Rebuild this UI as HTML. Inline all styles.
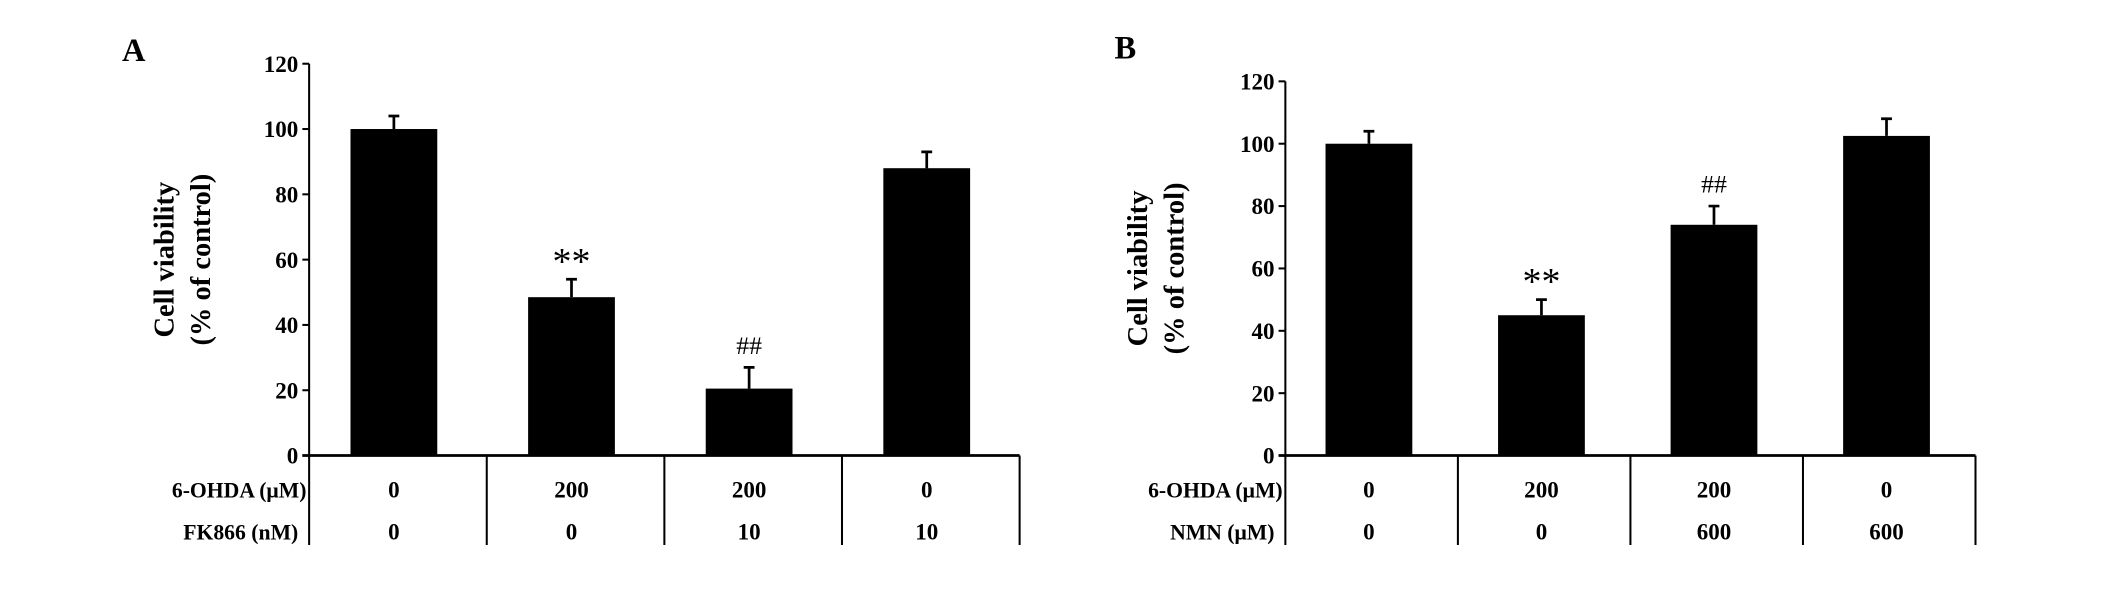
<!DOCTYPE html>
<html><head><meta charset="utf-8"><style>
html,body{margin:0;padding:0;background:#fff;}
svg{display:block;font-family:"Liberation Serif",serif;font-weight:bold;}
</style></head><body>
<svg id="chart" width="2126" height="596" viewBox="0 0 1568 439.6" preserveAspectRatio="none" xmlns="http://www.w3.org/2000/svg"></svg>
<script>
const yTicks = [0,20,40,60,80,100,120];
const aValues = [100,48.5,20.5,88];
const aErrors = [4,5.5,6.5,5];
const aRow1 = ["0","200","200","0"];
const aRow2 = ["0","0","10","10"];
const aMarks = ["","**","##",""];
const bValues = [100,45,74,102.5];
const bErrors = [4,5,6,5.5];
const bRow1 = ["0","200","200","0"];
const bRow2 = ["0","0","600","600"];
const bMarks = ["","**","##",""];

const svg=document.getElementById('chart');
const NS="http://www.w3.org/2000/svg";
function mk(tag,attrs,parent){const e=document.createElementNS(NS,tag);for(const k in attrs)e.setAttribute(k,attrs[k]);(parent||svg).appendChild(e);return e;}

function panel(cfg){
  const g=mk('g',{});
  
  
  const y=v=>cfg.y0-(v/120)*(cfg.y0-cfg.y120);
  const catW=(cfg.xEnd-cfg.x0)/4;
  const xc=i=>cfg.x0+catW*(i+0.5)+cfg.shift;
  const L=mk('text',{x:cfg.letterX,y:cfg.letterY,'font-size':24},g);L.textContent=cfg.letter;
  
  
  const ya=mk('line',{x1:cfg.x0,y1:cfg.y120,x2:cfg.x0,y2:cfg.y0,stroke:'#000','stroke-width':1.5},g);
  
  
  yTicks.forEach(t=>{
    mk('line',{x1:cfg.x0-5,y1:y(t),x2:cfg.x0,y2:y(t),stroke:'#000','stroke-width':1.5},g);
    const tx=mk('text',{x:cfg.x0-8,y:y(t)+6,'font-size':17,'text-anchor':'end'},g);tx.textContent=t;
    
    
  });
  const yt=mk('text',{transform:`translate(${cfg.titleX},${(cfg.y0+cfg.y120)/2}) rotate(-90)`,'font-size':21,'text-anchor':'middle'},g);
  
  
  const t1=mk('tspan',{x:0,dy:0},yt);t1.textContent='Cell viability';
  const t2=mk('tspan',{x:0,dy:27},yt);t2.textContent='(% of control)';
  cfg.values.forEach((v,i)=>{
    const bw=64;
    const r=mk('rect',{x:xc(i)-bw/2,y:y(v),width:bw,height:cfg.y0-y(v),fill:'#000'},g);
    
    
    const e=cfg.errors[i];
    const el=mk('path',{d:`M${xc(i)} ${y(v)} V${y(v+e)} M${xc(i)-4} ${y(v+e)} H${xc(i)+4}`,stroke:'#000','stroke-width':2,fill:'none'},g);
    
    
    if(cfg.marks[i]){
      const isStar=cfg.marks[i]==='**';
      const m=mk('text',{x:xc(i),y:y(v+e)-(isStar?4:10),'font-size':isStar?28:19,'font-weight':'normal','text-anchor':'middle'},g);
      m.textContent=cfg.marks[i];
      
      
    }
  });
  const xa=mk('line',{x1:cfg.x0-5,y1:cfg.y0,x2:cfg.xEnd,y2:cfg.y0,stroke:'#000','stroke-width':2},g);
  
  
  for(let i=0;i<=4;i++){
    mk('line',{x1:cfg.x0+catW*i,y1:cfg.y0,x2:cfg.x0+catW*i,y2:cfg.y0+66,stroke:'#000','stroke-width':1.5},g);
  }
  const r1=mk('text',{x:cfg.x0-2,y:cfg.y0+31,'font-size':16,'text-anchor':'end'},g);r1.textContent=cfg.row1Label;
  
  
  const r2=mk('text',{x:cfg.x0-8,y:cfg.y0+62,'font-size':16,'text-anchor':'end'},g);r2.textContent=cfg.row2Label;
  
  
  for(let i=0;i<4;i++){
    const a=mk('text',{x:xc(i),y:cfg.y0+31,'font-size':17,'text-anchor':'middle'},g);a.textContent=cfg.row1[i];
    
    
    const b=mk('text',{x:xc(i),y:cfg.y0+62,'font-size':17,'text-anchor':'middle'},g);b.textContent=cfg.row2[i];
    
    
  }
}
panel({name:'panel-a',letter:'A',letterX:90,letterY:45,x0:228,xEnd:752,y0:336,y120:47,titleX:128,shift:-3,
  values:aValues,errors:aErrors,marks:aMarks,row1:aRow1,row2:aRow2,row1Label:'6-OHDA (\u03bcM)',row2Label:'FK866 (nM)'});
panel({name:'panel-b',letter:'B',letterX:822,letterY:43,x0:948,xEnd:1457,y0:336,y120:60,titleX:846,shift:-2,
  values:bValues,errors:bErrors,marks:bMarks,row1:bRow1,row2:bRow2,row1Label:'6-OHDA (\u03bcM)',row2Label:'NMN (\u03bcM)'});
</script>
</body></html>
